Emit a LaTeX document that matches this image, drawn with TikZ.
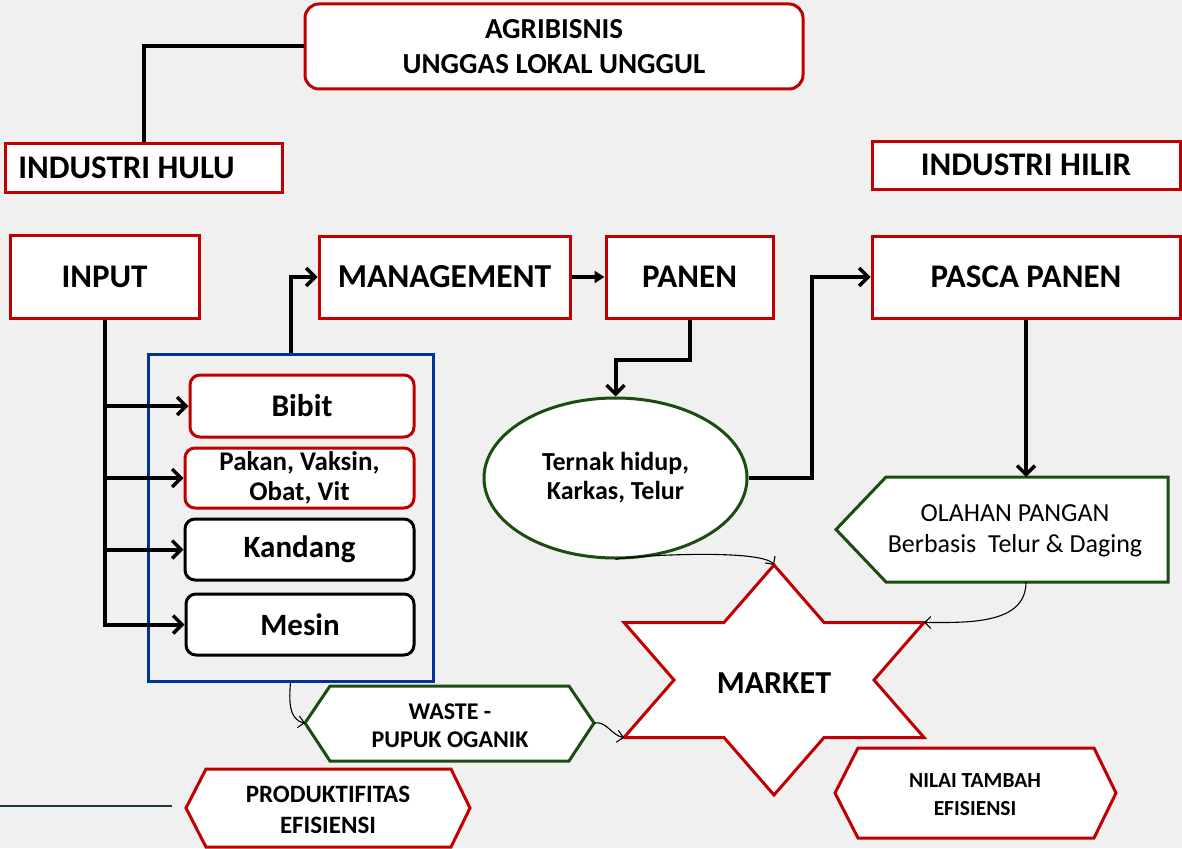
\documentclass[tikz,border=0pt]{standalone}
\usepackage{fontspec}
\setmainfont{Carlito}
\usetikzlibrary{calc, positioning, shapes.geometric, arrows.meta}
\definecolor{boxred}{RGB}{192,0,0}
\definecolor{leafgreen}{RGB}{28,76,18}
\definecolor{frameblue}{RGB}{0,51,153}
\definecolor{paper}{RGB}{240,240,240}
\definecolor{rulegray}{RGB}{30,58,68}
\newcommand{\fsz}[2]{\fontsize{#1}{#2}\selectfont\bfseries}

\begin{document}
\begin{tikzpicture}[x=1pt, y=-1pt,
    redbox/.style={draw=boxred, line width=3pt, fill=white, align=center, inner sep=0pt},
    blackbox/.style={draw=black, line width=3pt, fill=white, align=center, inner sep=0pt},
    greenline/.style={draw=leafgreen, line width=3pt, fill=white},
    redline/.style={draw=boxred, line width=3pt, fill=white},
    link/.style={line width=4pt},
    flow/.style={line width=4pt, -{Straight Barb[length=9pt, width=18pt, line width=3.5pt]}},
    thinflow/.style={line width=1.1pt, -{Straight Barb[length=6pt, width=12pt, line width=1.1pt]}}]

    \fill[paper] (0,0) rectangle (1182,848);
    \useasboundingbox (0,0) rectangle (1182,848);

    % top level
    \node[redbox, rounded corners=14pt, minimum width=498pt, minimum height=85pt, font=\fsz{29}{35}] (agri) at (554,46.5) {AGRIBISNIS\\UNGGAS LOKAL UNGGUL};
    \node[redbox, minimum width=277pt, minimum height=49pt, font=\fsz{33}{36}] (hulu) at (143.5,167.5) {INDUSTRI HULU\hspace*{34pt}};
    \node[redbox, minimum width=308pt, minimum height=48pt, font=\fsz{33}{36}] (hilir) at (1026,165) {INDUSTRI HILIR};

    % main chain
    \node[redbox, minimum width=189pt, minimum height=83pt, font=\fsz{33}{36}] (input) at (104.5,276.5) {INPUT};
    \node[redbox, minimum width=251pt, minimum height=82pt, font=\fsz{33.5}{36}] (mgmt) at (444.5,277) {MANAGEMENT};
    \node[redbox, minimum width=167pt, minimum height=82pt, font=\fsz{33}{36}] (panen) at (689.5,277) {PANEN};
    \node[redbox, minimum width=308pt, minimum height=82pt, font=\fsz{33}{36}] (pasca) at (1026,277) {PASCA PANEN};

    % input group
    \node[draw=frameblue, line width=3pt, minimum width=285pt, minimum height=327pt] (frame) at (290.5,517.5) {};
    \node[redbox, rounded corners=10pt, minimum width=224pt, minimum height=62pt, font=\fsz{31.5}{36}] (bibit) at (302,406) {Bibit};
    \node[redbox, rounded corners=10pt, minimum width=229pt, minimum height=60pt, font=\fsz{27}{30}] (pakan) at (299.5,478) {Pakan, Vaksin,\\Obat, Vit};
    \node[blackbox, rounded corners=10pt, minimum width=229pt, minimum height=61pt, font=\fsz{31}{36}] (kandang) at (299.5,549.5) {Kandang};
    \node[blackbox, rounded corners=10pt, minimum width=228pt, minimum height=61pt, font=\fsz{31}{36}] (mesin) at (300,624.5) {Mesin};

    % products
    \node[greenline, ellipse, minimum width=263pt, minimum height=160pt, align=center, font=\fsz{26}{29}] (ternak) at (615.5,478) {Ternak hidup,\\Karkas, Telur};
    \draw[greenline] (836,529.5) -- (886,477) -- (1168,477) -- (1168,582) -- (886,582) -- cycle;
    \coordinate (olahan-top) at (1026,477);
    \coordinate (olahan-bot) at (1026,582);
    \node[align=center, font=\fontsize{26}{31}\selectfont] (olahan) at (1015,531) {OLAHAN PANGAN\\Berbasis\ \ Telur \& Daging};

    % market star
    \draw[redline] (774,565) coordinate (mk-top) -- (824,622.5) -- (924,622.5) coordinate (mk-ne)
        -- (874,680) -- (924,737.5) -- (824,737.5) -- (774,795) -- (724,737.5)
        -- (624,737.5) coordinate (mk-sw) -- (674,680) -- (624,622.5) -- (724,622.5) -- cycle;
    \node[font=\fsz{32}{34}] (market) at (774,683) {MARKET};

    % side hexagons
    \draw[greenline] (305,723) coordinate (waste-w) -- (330,686) -- (569,686) -- (594,723) coordinate (waste-e)
        -- (569,761) -- (330,761) -- cycle;
    \node[align=center, font=\fsz{24}{28}] (waste) at (450,726) {WASTE -\\PUPUK OGANIK};
    \draw[redline] (186,808) -- (206,769) -- (451,769) -- (470,808) -- (451,847) -- (206,847) -- cycle;
    \node[align=center, font=\fsz{25}{31}] (produk) at (328,810) {PRODUKTIFITAS\\EFISIENSI};
    \draw[redline] (835,793) -- (858,748) -- (1094,748) -- (1116,793) -- (1094,838) -- (858,838) -- cycle;
    \node[align=center, font=\fsz{21.5}{28}] (nilai) at (975,795) {NILAI TAMBAH\\EFISIENSI};

    \coordinate (rule-a) at (0,806);
    \coordinate (rule-b) at (172,806);
    \draw[rulegray, line width=2pt] (rule-a) -- (rule-b);

    % connectors
    \draw[link] (agri.west) -| (hulu.north);
    \draw[flow] (input.south) |- (mesin.west);
    \draw[flow] (input.south |- bibit.west) -- (bibit.west);
    \draw[flow] (input.south |- pakan.west) -- (pakan.west);
    \draw[flow] (input.south |- kandang.west) -- (kandang.west);
    \draw[flow] (frame.north) |- (mgmt.west);
    \draw[line width=3.5pt, -{Triangle[length=10pt, width=12pt]}] (mgmt.east) -- (panen.west);
    \draw[flow] (panen.south) -- ++(0,40) -| (ternak.north);
    \draw[flow] (ternak.east) -- ++(63,0) |- (pasca.west);
    \draw[flow] (pasca.south) -- (olahan-top);

    \draw[thinflow] (ternak.south) .. controls (625,556) and (762,548) .. (mk-top);
    \draw[thinflow] (olahan-bot) to[out=-90, in=0] (mk-ne);
    \draw[thinflow] (frame.south) to[out=-95, in=170] (waste-w);
    \draw[thinflow] (waste-e) to[out=10, in=170] (mk-sw);
\end{tikzpicture}
\end{document}
